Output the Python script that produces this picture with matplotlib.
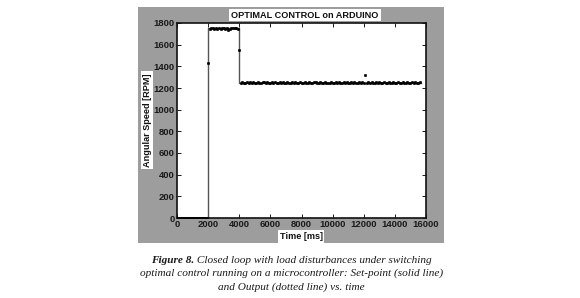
import numpy as np
import matplotlib
matplotlib.use("Agg")
import matplotlib.pyplot as plt
from matplotlib.patches import Rectangle

# ---------------- data ----------------
setpoint_time = [0, 2000, 2000, 4000, 4000, 15650]
setpoint_rpm = [0, 0, 1750, 1750, 1250, 1250]

sample_period_ms = 100
output_rpm = [
    # 0 .. 1900 ms
    0, 0, 0, 0, 0, 0, 0, 0, 0, 0,
    0, 0, 0, 0, 0, 0, 0, 0, 0, 0,
    # 2000 ms
    1430,
    # 2100 .. 3900 ms
    1748, 1752, 1750, 1747, 1753, 1749, 1751, 1746, 1752, 1750,
    1748, 1754, 1740, 1749, 1751, 1753, 1750, 1752, 1749,
    # 4000 ms
    1550,
    # 4100 .. 12000 ms
    1248, 1252, 1250, 1247, 1253, 1249, 1251, 1246, 1252, 1250,
    1248, 1254, 1250, 1249, 1251, 1253, 1250, 1252, 1249, 1247,
    1251, 1250, 1253, 1248, 1250, 1252, 1249, 1251, 1247, 1250,
    1252, 1248, 1250, 1251, 1249, 1253, 1250, 1248, 1252, 1250,
    1249, 1251, 1250, 1247, 1252, 1250, 1248, 1251, 1253, 1249,
    1250, 1252, 1248, 1250, 1251, 1249, 1247, 1250, 1252, 1250,
    1248, 1251, 1250, 1253, 1249, 1250, 1252, 1248, 1251, 1250,
    1249, 1251, 1250, 1252, 1248, 1250, 1251, 1249, 1253, 1246,
    # 12100 .. 15600 ms
    1320, 1249, 1251, 1250, 1252, 1248, 1250, 1251, 1249, 1253,
    1250, 1248, 1252, 1250, 1249, 1251, 1250, 1247, 1252, 1250,
    1248, 1251, 1250, 1249, 1252, 1250, 1248, 1251, 1250, 1249,
    1251, 1250, 1252, 1248, 1250, 1251,
]
output_time = [i * sample_period_ms for i in range(len(output_rpm))]

x_ticks = [0, 2000, 4000, 6000, 8000, 10000, 12000, 14000, 16000]
y_ticks = [0, 200, 400, 600, 800, 1000, 1200, 1400, 1600, 1800]

title = "OPTIMAL CONTROL on ARDUINO"
xlabel = "Time [ms]"
ylabel = "Angular Speed [RPM]"
caption_bold = "Figure 8."
caption_line1 = " Closed loop with load disturbances under switching"
caption_line2 = "optimal control running on a microcontroller: Set-point (solid line)"
caption_line3 = "and Output (dotted line) vs. time"

# ---------------- figure ----------------
W, H = 580, 298
fig = plt.figure(figsize=(W / 100, H / 100), dpi=100)
fig.patch.set_facecolor("white")

def fx(px):
    return px / W

def fy(py):
    return 1 - py / H

gray = "#9d9d9d"
fig.add_artist(Rectangle((fx(138), fy(243)), fx(444) - fx(138), fy(7) - fy(243),
                         transform=fig.transFigure, facecolor=gray, edgecolor="none", zorder=0))

ax = fig.add_axes([fx(177), fy(218), fx(426) - fx(177), fy(23) - fy(218)])
ax.set_facecolor("white")
ax.set_zorder(2)

ax.plot(setpoint_time, setpoint_rpm, color="#555555", lw=1.0, zorder=2)
ax.plot(output_time, output_rpm, linestyle="none", marker="o", markersize=1.9,
        markerfacecolor="black", markeredgecolor="black", markeredgewidth=0.3, zorder=3)

ax.set_xlim(0, 16000)
ax.set_ylim(0, 1800)
ax.set_xticks(x_ticks)
ax.set_yticks(y_ticks)
ax.set_xticklabels([str(v) for v in x_ticks])
ax.set_yticklabels([str(v) for v in y_ticks])

for lab in ax.get_xticklabels() + ax.get_yticklabels():
    lab.set_fontfamily("Liberation Sans")
    lab.set_fontsize(6.8)
    lab.set_fontweight("bold")
    lab.set_color("#1a1a1a")

ax.tick_params(direction="in", length=3, width=0.7, top=True, right=True,
               pad=1.5, colors="#1a1a1a")
for s in ax.spines.values():
    s.set_linewidth(1.2)
    s.set_color("#111111")

box = dict(facecolor="white", edgecolor="none", pad=1.3)
lab_kw = dict(fontsize=6.6, fontweight="bold", family="Liberation Sans", color="#111111",
              ha="center", va="center", bbox=box, zorder=5)
fig.text(fx(305), fy(15), title, **lab_kw)
fig.text(fx(301), fy(236.5), xlabel, **lab_kw)
fig.text(fx(147), fy(120), ylabel, rotation=90, **lab_kw)

# ---------------- caption ----------------
cap_kw = dict(family="Liberation Serif", style="italic", fontsize=8.15, color="#1a1a1a", va="center")
t_bold = fig.text(0, fy(260.7), caption_bold, fontweight="bold", ha="left", **cap_kw)
t_rest = fig.text(0, fy(260.7), caption_line1, ha="left", **cap_kw)
fig.canvas.draw()
r = fig.canvas.get_renderer()
wb = t_bold.get_window_extent(r).width
wr = t_rest.get_window_extent(r).width
cx = 291.5
x0 = cx - (wb + wr) / 2
t_bold.set_x(fx(x0))
t_rest.set_x(fx(x0 + wb))
fig.text(fx(cx), fy(273.5), caption_line2, ha="center", **cap_kw)
fig.text(fx(cx), fy(286.7), caption_line3, ha="center", **cap_kw)

fig.savefig("out.png", dpi=100, facecolor="white")
